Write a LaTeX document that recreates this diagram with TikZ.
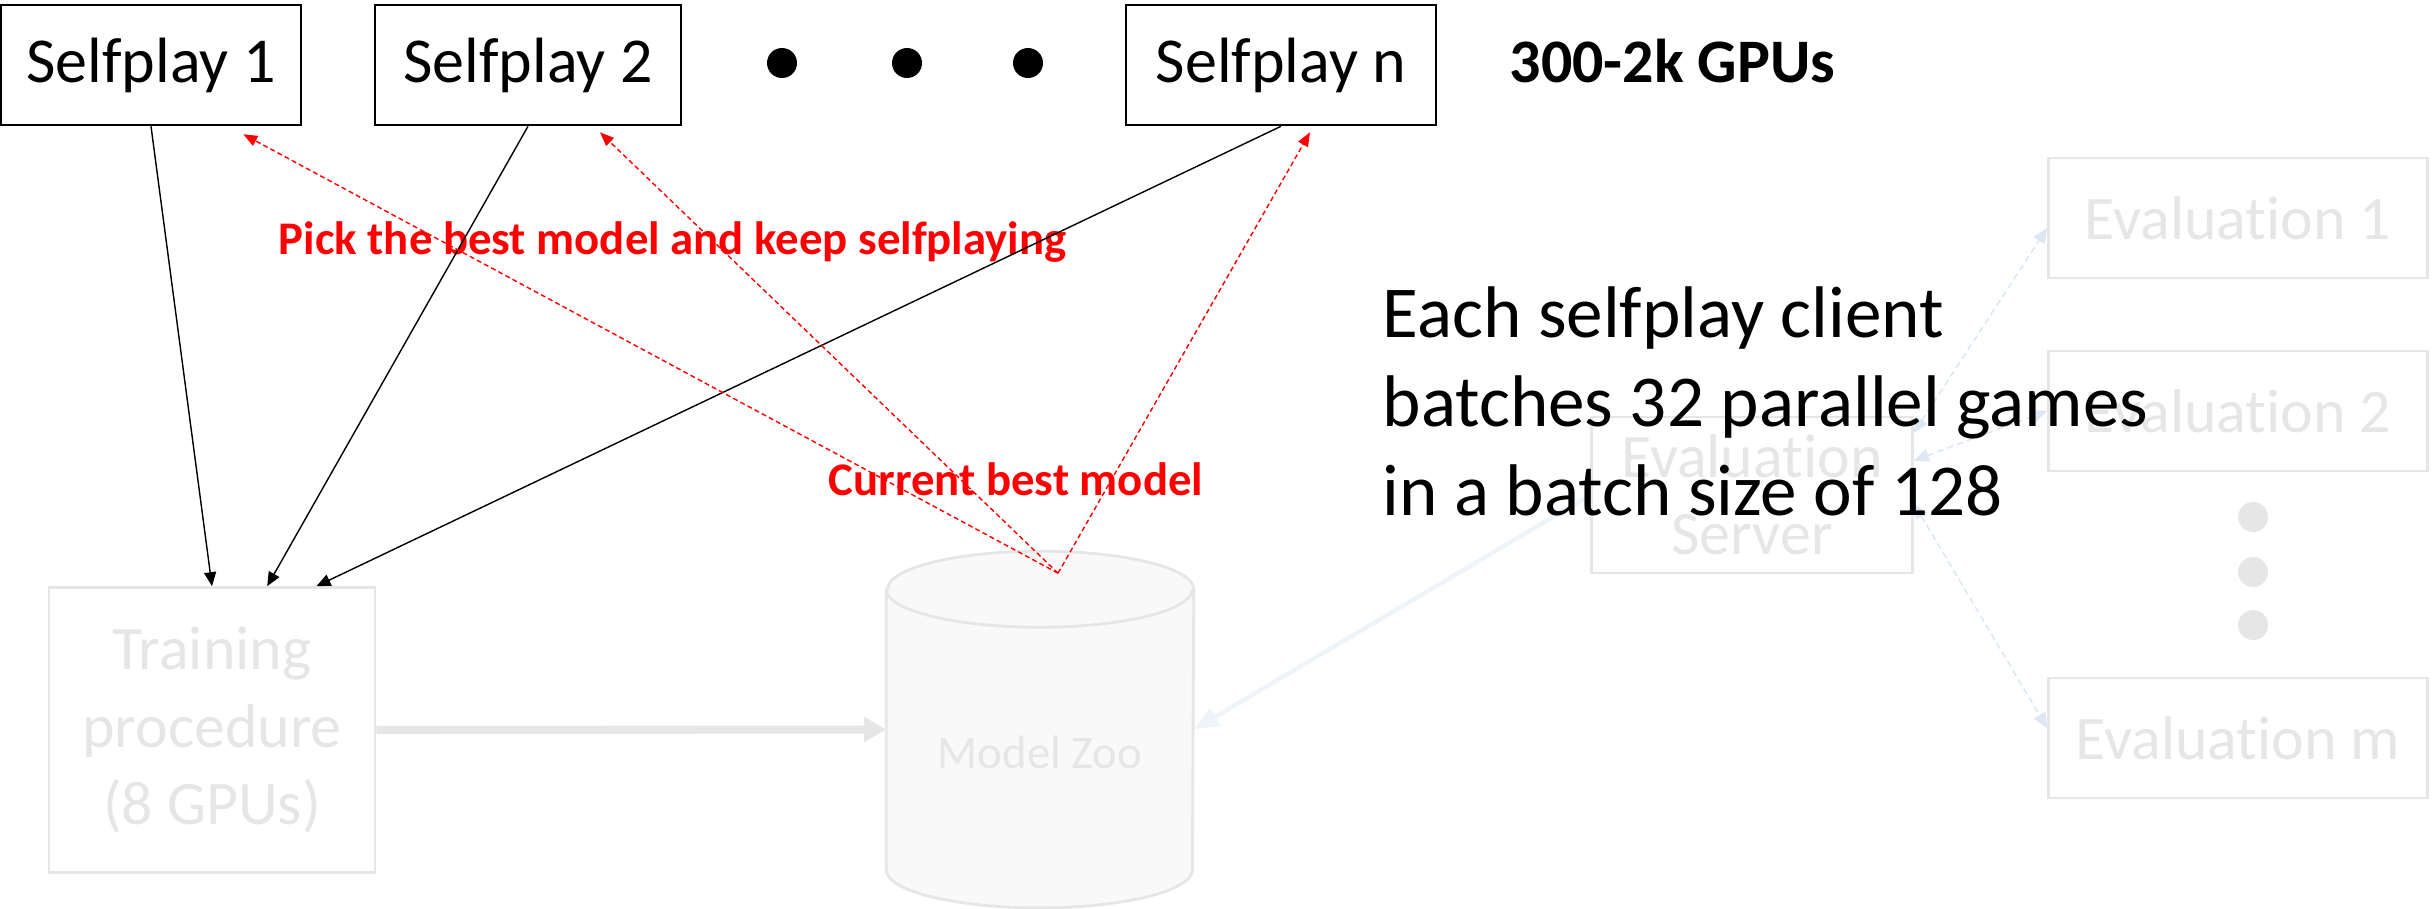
\documentclass[tikz,border=0pt]{standalone}
\usepackage{fontspec}
\setmainfont{Carlito}[Ligatures=NoCommon]
\usetikzlibrary{arrows.meta,calc}

\definecolor{fadegray}{HTML}{E6E6E6}
\definecolor{zoofill}{HTML}{F9F9F9}
\definecolor{paleblue}{HTML}{EEF4FA}
\definecolor{dashblue}{HTML}{DCE7F3}

\begin{document}
\begin{tikzpicture}[x=0.01cm,y=-0.01cm,
  spbox/.style={draw,line width=0.7pt,minimum width=3.06cm,minimum height=1.2cm,inner sep=0pt,font=\fontsize{18.2}{22}\selectfont},
  fadebox/.style={draw=fadegray,line width=0.7pt,text=fadegray,inner sep=0pt,align=center,font=\fontsize{17.6}{22}\selectfont},
  feed/.style={-{Triangle[length=0.14cm,width=0.12cm]},line width=0.4pt},
  best/.style={-{Triangle[length=0.14cm,width=0.11cm]},red,line width=0.4pt,dash pattern=on 1.4pt off 0.9pt},
  evalarrow/.style={{Triangle[length=0.15cm,width=0.13cm]}-{Triangle[length=0.15cm,width=0.13cm]},dashblue,line width=0.45pt,dash pattern=on 1.8pt off 1.2pt},
  redtext/.style={anchor=base west,inner sep=0pt,text=red,font=\fontsize{13.3}{16}\selectfont\bfseries}]
\useasboundingbox (0,0) rectangle (2433,908);

% selfplay clients
\node[spbox,minimum width=3cm] (sp1) at (151,65) {Selfplay 1};
\node[spbox] (sp2) at (528,65) {Selfplay 2};
\node[spbox,minimum width=3.1cm] (spn) at (1281,65) {Selfplay n};
\foreach \x in {782,907,1028}
  \fill (\x,63) circle (0.15cm);
\node[anchor=base west,inner sep=0pt,font=\fontsize{17.6}{22}\selectfont\bfseries] (gpus) at (1509,82) {300-2k GPUs};

% training and model zoo
\node[fadebox,minimum width=3.26cm,minimum height=2.85cm] (train) at (212,730) {Training\\procedure\\(8 GPUs)};
\node[inner sep=0pt,minimum width=3.06cm,minimum height=3.55cm] (zoo) at (1040,729.5) {};
\filldraw[fill=zoofill,draw=fadegray,line width=0.8pt]
  ($(zoo.north west)+(0,38)$) -- ($(zoo.south west)+(0,-38)$)
  arc[start angle=180,end angle=360,x radius=1.53cm,y radius=0.38cm]
  -- ($(zoo.north east)+(0,38)$)
  arc[start angle=0,end angle=180,x radius=1.53cm,y radius=0.38cm] -- cycle;
\draw[fadegray,line width=0.8pt] ($(zoo.north west)+(0,38)$)
  arc[start angle=180,end angle=360,x radius=1.53cm,y radius=0.38cm];
\node[text=fadegray,font=\fontsize{13.3}{16}\selectfont] (zootext) at ($(zoo.center)+(0,23)$) {Model Zoo};
\draw[fadegray,line width=2.3pt,-{Triangle[length=0.22cm,width=0.24cm]}] (train.east) -- (zoo.west);

% evaluation
\node[fadebox,minimum width=3.21cm,minimum height=1.56cm] (srv) at (1752,495) {Evaluation\\Server};
\node[fadebox,minimum width=3.79cm,minimum height=1.2cm] (ev1) at (2238,218) {Evaluation 1};
\node[fadebox,minimum width=3.79cm,minimum height=1.2cm] (ev2) at (2238,411) {Evaluation 2};
\node[fadebox,minimum width=3.79cm,minimum height=1.2cm] (evm) at (2238,738) {Evaluation m};
\foreach \y in {517,572,625}
  \fill[fadegray] (2253,\y) circle (0.15cm);
\draw[paleblue,line width=1.3pt,-{Triangle[length=0.25cm,width=0.2cm]}] (srv.west) -- (zoo.east);
\draw[evalarrow] (srv.21) -- (ev1.183);
\draw[evalarrow] (srv.12) -- (ev2.west);
\draw[evalarrow] (srv.-3) -- (evm.177);

% labels
\node[redtext] (pick) at (278,254) {Pick the best model and keep selfplaying};
\node[redtext] (cur) at (828,495) {Current best model};
\node[anchor=base west,inner sep=0pt,align=left,font=\fontsize{20.8}{25.3}\selectfont] (batch) at (1382,515)
  {Each selfplay client\\batches 32 parallel games\\in a batch size of 128};

% clients feed the trainer
\draw[feed] (sp1.south) -- (train.north);
\draw[feed] (sp2.south) -- (train.69);
\draw[feed] (spn.south) -- (train.54);

% best model goes back to the clients
\coordinate (top) at ($(zoo.north)+(18,22)$);
\draw[best] (top) -- ($(sp1.south east)+(-59,8)$);
\draw[best] (top) -- ($(sp2.south)+(72,6)$);
\draw[best] (top) -- ($(spn.south)+(29,6)$);
\end{tikzpicture}
\end{document}
